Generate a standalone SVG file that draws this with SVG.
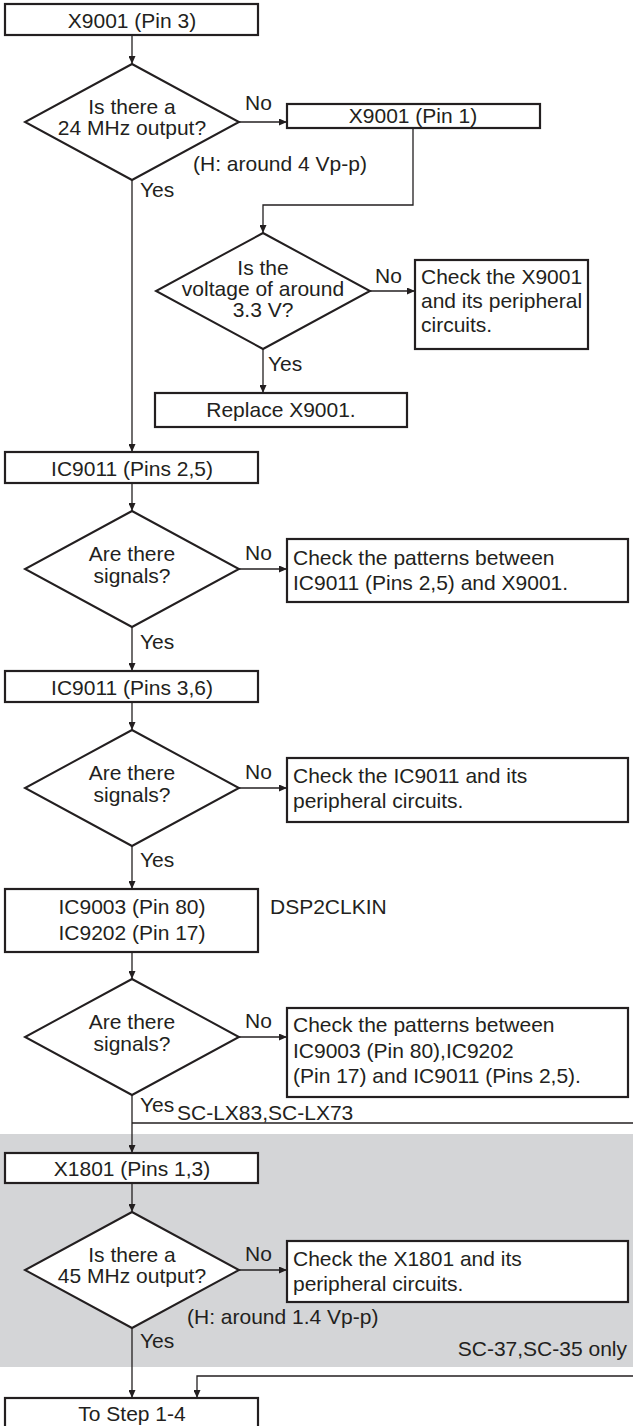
<svg xmlns="http://www.w3.org/2000/svg" width="633" height="1426" viewBox="0 0 633 1426">
<defs>
<marker id="ah" markerUnits="userSpaceOnUse" markerWidth="8" markerHeight="7" refX="8" refY="3.5" orient="auto">
<path d="M0,0 L8,3.5 L0,7 z" fill="#231f20"/>
</marker>
<style>
text{font-family:"Liberation Sans",Arial,sans-serif;font-size:21px;fill:#231f20}
.c{text-anchor:middle}
.box{fill:#fff;stroke:#231f20;stroke-width:2.2}
.dia{fill:#fff;stroke:#231f20;stroke-width:2}
.ln{fill:none;stroke:#231f20;stroke-width:1.3}
.ar{marker-end:url(#ah)}
</style>
</defs>
<rect x="0" y="1134" width="633" height="233" fill="#d4d5d7"/>
<g id="connectors">
<path class="ln ar" d="M132,35 V64"/>
<path class="ln ar" d="M239,122 H287"/>
<path class="ln ar" d="M413,128 V205 H263 V233"/>
<path class="ln ar" d="M370,291 H415"/>
<path class="ln ar" d="M263,349 V393"/>
<path class="ln ar" d="M132,180 V452"/>
<path class="ln ar" d="M132,483 V511"/>
<path class="ln ar" d="M239,569 H287"/>
<path class="ln ar" d="M132,627 V671"/>
<path class="ln ar" d="M132,702 V730"/>
<path class="ln ar" d="M239,788 H287"/>
<path class="ln ar" d="M132,846 V889"/>
<path class="ln ar" d="M132,952 V979"/>
<path class="ln ar" d="M239,1037 H287"/>
<path class="ln ar" d="M132,1095 V1153"/>
<path class="ln" d="M132,1123 H633"/>
<path class="ln ar" d="M132,1183 V1212"/>
<path class="ln ar" d="M239,1270 H287"/>
<path class="ln ar" d="M132,1328 V1398"/>
<path class="ln ar" d="M633,1376 H197 V1398"/>
</g>
<g id="n1"><rect class="box" x="5" y="4" width="253" height="31"/><text class="c" x="132" y="28">X9001 (Pin 3)</text></g>
<g id="d1"><polygon class="dia" points="132,64 239,122 132,180 25,122"/><text class="c" x="132" y="114">Is there a</text><text class="c" x="132" y="135">24 MHz output?</text></g>
<g id="n2"><rect class="box" x="287" y="104" width="253" height="24"/><text class="c" x="413" y="123">X9001 (Pin 1)</text></g>
<g id="d2"><polygon class="dia" points="263,233 370,291 263,349 156,291"/><text class="c" x="263" y="275">Is the</text><text class="c" x="263" y="296">voltage of around</text><text class="c" x="263" y="317">3.3 V?</text></g>
<g id="n3"><rect class="box" x="415" y="260" width="173" height="89"/><text x="421" y="284">Check the X9001</text><text x="421" y="308">and its peripheral</text><text x="421" y="332">circuits.</text></g>
<g id="n4"><rect class="box" x="155" y="393" width="252" height="34"/><text class="c" x="281" y="417">Replace X9001.</text></g>
<g id="n5"><rect class="box" x="5" y="452" width="253" height="31"/><text class="c" x="132" y="476">IC9011 (Pins 2,5)</text></g>
<g id="d3"><polygon class="dia" points="132,511 239,569 132,627 25,569"/><text class="c" x="132" y="561">Are there</text><text class="c" x="132" y="583">signals?</text></g>
<g id="n6"><rect class="box" x="287" y="539" width="341" height="63"/><text x="293" y="565">Check the patterns between</text><text x="293" y="590">IC9011 (Pins 2,5) and X9001.</text></g>
<g id="n7"><rect class="box" x="5" y="671" width="253" height="31"/><text class="c" x="132" y="695">IC9011 (Pins 3,6)</text></g>
<g id="d4"><polygon class="dia" points="132,730 239,788 132,846 25,788"/><text class="c" x="132" y="780">Are there</text><text class="c" x="132" y="802">signals?</text></g>
<g id="n8"><rect class="box" x="287" y="758" width="341" height="64"/><text x="293" y="783">Check the IC9011 and its</text><text x="293" y="808">peripheral circuits.</text></g>
<g id="n9"><rect class="box" x="5" y="889" width="253" height="63"/><text class="c" x="132" y="914">IC9003 (Pin 80)</text><text class="c" x="132" y="940">IC9202 (Pin 17)</text></g>
<text x="270" y="914">DSP2CLKIN</text>
<g id="d5"><polygon class="dia" points="132,979 239,1037 132,1095 25,1037"/><text class="c" x="132" y="1029">Are there</text><text class="c" x="132" y="1051">signals?</text></g>
<g id="n10"><rect class="box" x="287" y="1008" width="341" height="89"/><text x="293" y="1032">Check the patterns between</text><text x="293" y="1058">IC9003 (Pin 80),IC9202</text><text x="293" y="1083">(Pin 17) and IC9011 (Pins 2,5).</text></g>
<g id="n11"><rect class="box" x="5" y="1153" width="253" height="30"/><text class="c" x="132" y="1176">X1801 (Pins 1,3)</text></g>
<g id="d6"><polygon class="dia" points="132,1212 239,1270 132,1328 25,1270"/><text class="c" x="132" y="1262">Is there a</text><text class="c" x="132" y="1283">45 MHz output?</text></g>
<g id="n12"><rect class="box" x="287" y="1241" width="341" height="61"/><text x="293" y="1266">Check the X1801 and its</text><text x="293" y="1291">peripheral circuits.</text></g>
<g id="n13"><rect class="box" x="5" y="1398" width="253" height="30"/><text class="c" x="132" y="1421">To Step 1-4</text></g>
<g id="labels">
<text x="245" y="110">No</text>
<text x="193" y="171">(H: around 4 Vp-p)</text>
<text x="140" y="197">Yes</text>
<text x="375" y="283">No</text>
<text x="268" y="371">Yes</text>
<text x="245" y="560">No</text>
<text x="140" y="649">Yes</text>
<text x="245" y="779">No</text>
<text x="140" y="867">Yes</text>
<text x="245" y="1028">No</text>
<text x="140" y="1112">Yes</text>
<text x="177" y="1120">SC-LX83,SC-LX73</text>
<text x="245" y="1261">No</text>
<text x="187" y="1324">(H: around 1.4 Vp-p)</text>
<text x="140" y="1348">Yes</text>
<text x="627" y="1356" text-anchor="end">SC-37,SC-35 only</text>
</g>
</svg>
